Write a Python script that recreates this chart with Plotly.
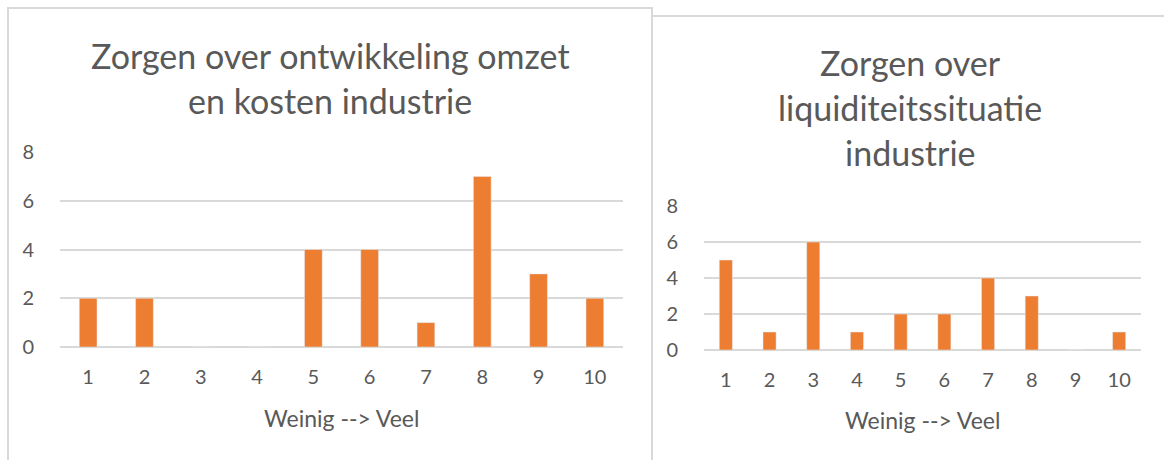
import plotly.graph_objects as go

W, H = 1164, 460

categories = [str(i) for i in range(1, 11)]
omzet_kosten = [2, 2, 0, 0, 4, 4, 1, 7, 3, 2]
liquiditeit = [5, 1, 6, 1, 2, 2, 4, 3, 0, 1]
y_ticks = [0, 2, 4, 6, 8]

title_left = ["Zorgen over ontwikkeling omzet", "en kosten industrie"]
title_right = ["Zorgen over", "liquiditeitssituatie", "industrie"]
x_title = "Weinig --> Veel"

ORANGE = "#ED7D31"
GRID = "#D9D9D9"
TEXT = "#595959"
FONT = "Lato"


def px_x(v):
    return v / W


def px_y(v):
    return 1 - v / H


fig = go.Figure()
fig.add_trace(go.Bar(x=categories, y=omzet_kosten, marker_color=ORANGE,
                     xaxis="x", yaxis="y", width=0.315))
fig.add_trace(go.Bar(x=categories, y=liquiditeit, marker_color=ORANGE,
                     xaxis="x2", yaxis="y2", width=0.3))


def xaxis(domain, anchor):
    return dict(domain=domain, anchor=anchor, type="category", automargin=False,
                showgrid=False, zeroline=False, showline=False,
                ticks="outside", ticklen=12, tickcolor="rgba(0,0,0,0)",
                tickfont=dict(family=FONT, size=20, color=TEXT))


def yaxis(domain, anchor):
    return dict(domain=domain, anchor=anchor, range=[0, 8], tickvals=y_ticks,
                automargin=False,
                showgrid=True, gridcolor=GRID, gridwidth=2,
                zeroline=True, zerolinecolor=GRID, zerolinewidth=2,
                showline=False, ticks="outside", ticklen=21,
                tickcolor="rgba(0,0,0,0)",
                tickfont=dict(family=FONT, size=20, color=TEXT))


fig.update_layout(
    width=W, height=H, margin=dict(l=0, r=0, t=0, b=0, autoexpand=False),
    paper_bgcolor="white", plot_bgcolor="white", showlegend=False,
    xaxis=xaxis([px_x(60), px_x(623)], "y"),
    yaxis=yaxis([px_y(347), px_y(152)], "x"),
    xaxis2=xaxis([px_x(704), px_x(1141)], "y2"),
    yaxis2=yaxis([px_y(350), px_y(206)], "x2"),
)

annotations = []
for i, line in enumerate(title_left):
    annotations.append(dict(x=px_x(330), y=px_y(56 + 45 * i), text=line,
                            showarrow=False, xref="paper", yref="paper",
                            xanchor="center", yanchor="middle",
                            font=dict(family=FONT, size=34, color=TEXT)))
for i, line in enumerate(title_right):
    annotations.append(dict(x=px_x(910), y=px_y(62 + 45 * i), text=line,
                            showarrow=False, xref="paper", yref="paper",
                            xanchor="center", yanchor="middle",
                            font=dict(family=FONT, size=34, color=TEXT)))
annotations.append(dict(x=px_x(341), y=px_y(418), text=x_title, showarrow=False,
                        xref="paper", yref="paper", xanchor="center", yanchor="middle",
                        font=dict(family=FONT, size=23, color=TEXT)))
annotations.append(dict(x=px_x(922), y=px_y(420), text=x_title, showarrow=False,
                        xref="paper", yref="paper", xanchor="center", yanchor="middle",
                        font=dict(family=FONT, size=23, color=TEXT)))
fig.update_layout(annotations=annotations)

border = dict(color=GRID, width=2)
shapes = [
    dict(type="path", xref="paper", yref="paper", line=border,
         path=f"M {px_x(8)},{px_y(462)} L {px_x(8)},{px_y(8)} L {px_x(652)},{px_y(8)} L {px_x(652)},{px_y(462)}"),
    dict(type="line", xref="paper", yref="paper", line=border,
         x0=px_x(652), y0=px_y(16), x1=px_x(1166), y1=px_y(16)),
]
fig.update_layout(shapes=shapes)

fig.write_html("out.html", config={"displayModeBar": False},
               post_script="document.body.style.margin='0';")
